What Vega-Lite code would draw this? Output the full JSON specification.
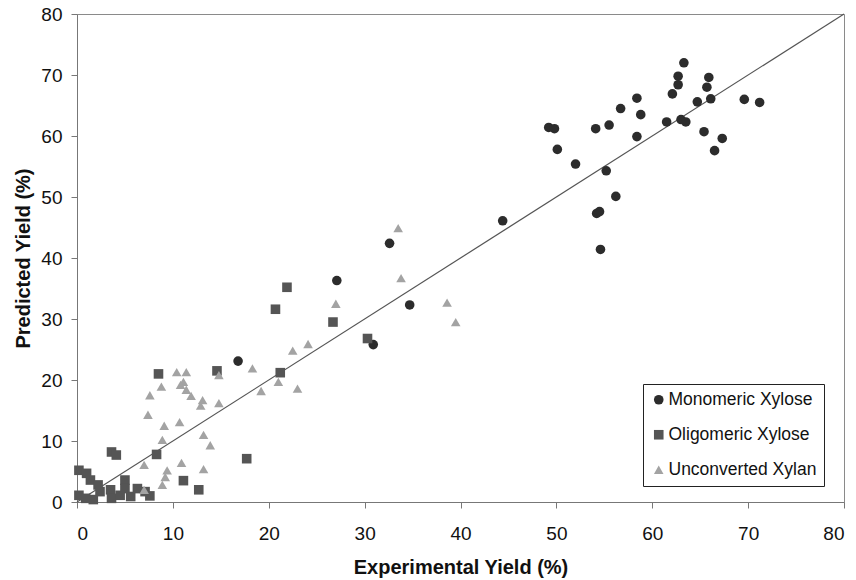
{
  "$schema": "https://vega.github.io/schema/vega-lite/v6.json",
  "autosize": "none",
  "width": 767,
  "height": 488,
  "padding": {"left": 77, "top": 14, "right": 12, "bottom": 78},
  "background": "white",
  "datasets": {
    "points": [
      {"series": "Monomeric Xylose", "exp": 63.3, "pred": 72.0},
      {"series": "Monomeric Xylose", "exp": 62.7, "pred": 69.8},
      {"series": "Monomeric Xylose", "exp": 62.7, "pred": 68.4},
      {"series": "Monomeric Xylose", "exp": 62.1, "pred": 66.9},
      {"series": "Monomeric Xylose", "exp": 65.9, "pred": 69.6},
      {"series": "Monomeric Xylose", "exp": 65.7, "pred": 68.0},
      {"series": "Monomeric Xylose", "exp": 66.1, "pred": 66.1},
      {"series": "Monomeric Xylose", "exp": 64.7, "pred": 65.6},
      {"series": "Monomeric Xylose", "exp": 69.6, "pred": 66.0},
      {"series": "Monomeric Xylose", "exp": 71.2, "pred": 65.5},
      {"series": "Monomeric Xylose", "exp": 58.4, "pred": 66.2},
      {"series": "Monomeric Xylose", "exp": 58.8, "pred": 63.5},
      {"series": "Monomeric Xylose", "exp": 56.7, "pred": 64.5},
      {"series": "Monomeric Xylose", "exp": 55.5, "pred": 61.8},
      {"series": "Monomeric Xylose", "exp": 54.1, "pred": 61.2},
      {"series": "Monomeric Xylose", "exp": 49.2, "pred": 61.4},
      {"series": "Monomeric Xylose", "exp": 49.8, "pred": 61.2},
      {"series": "Monomeric Xylose", "exp": 50.1, "pred": 57.8},
      {"series": "Monomeric Xylose", "exp": 52.0, "pred": 55.4},
      {"series": "Monomeric Xylose", "exp": 55.2, "pred": 54.3},
      {"series": "Monomeric Xylose", "exp": 58.4, "pred": 59.9},
      {"series": "Monomeric Xylose", "exp": 61.5, "pred": 62.3},
      {"series": "Monomeric Xylose", "exp": 63.0, "pred": 62.7},
      {"series": "Monomeric Xylose", "exp": 63.5, "pred": 62.3},
      {"series": "Monomeric Xylose", "exp": 65.4, "pred": 60.7},
      {"series": "Monomeric Xylose", "exp": 67.3, "pred": 59.6},
      {"series": "Monomeric Xylose", "exp": 66.5, "pred": 57.6},
      {"series": "Monomeric Xylose", "exp": 56.2, "pred": 50.1},
      {"series": "Monomeric Xylose", "exp": 54.2, "pred": 47.3},
      {"series": "Monomeric Xylose", "exp": 54.5, "pred": 47.6},
      {"series": "Monomeric Xylose", "exp": 54.6, "pred": 41.4},
      {"series": "Monomeric Xylose", "exp": 44.4, "pred": 46.1},
      {"series": "Monomeric Xylose", "exp": 32.6, "pred": 42.4},
      {"series": "Monomeric Xylose", "exp": 27.1, "pred": 36.3},
      {"series": "Monomeric Xylose", "exp": 34.7, "pred": 32.3},
      {"series": "Monomeric Xylose", "exp": 30.9, "pred": 25.8},
      {"series": "Monomeric Xylose", "exp": 16.8, "pred": 23.1},
      {"series": "Oligomeric Xylose", "exp": 21.9, "pred": 35.2},
      {"series": "Oligomeric Xylose", "exp": 20.7, "pred": 31.6},
      {"series": "Oligomeric Xylose", "exp": 26.7, "pred": 29.5},
      {"series": "Oligomeric Xylose", "exp": 30.3, "pred": 26.8},
      {"series": "Oligomeric Xylose", "exp": 21.2, "pred": 21.2},
      {"series": "Oligomeric Xylose", "exp": 14.6, "pred": 21.5},
      {"series": "Oligomeric Xylose", "exp": 8.5, "pred": 21.0},
      {"series": "Oligomeric Xylose", "exp": 8.3, "pred": 7.8},
      {"series": "Oligomeric Xylose", "exp": 3.6, "pred": 8.2},
      {"series": "Oligomeric Xylose", "exp": 4.1, "pred": 7.7},
      {"series": "Oligomeric Xylose", "exp": 17.7, "pred": 7.1},
      {"series": "Oligomeric Xylose", "exp": 11.1, "pred": 3.5},
      {"series": "Oligomeric Xylose", "exp": 12.7, "pred": 2.0},
      {"series": "Oligomeric Xylose", "exp": 0.2, "pred": 5.2},
      {"series": "Oligomeric Xylose", "exp": 1.0, "pred": 4.7},
      {"series": "Oligomeric Xylose", "exp": 1.4, "pred": 3.6},
      {"series": "Oligomeric Xylose", "exp": 2.2, "pred": 2.8},
      {"series": "Oligomeric Xylose", "exp": 5.0, "pred": 3.6},
      {"series": "Oligomeric Xylose", "exp": 5.0, "pred": 2.2},
      {"series": "Oligomeric Xylose", "exp": 0.2, "pred": 1.1},
      {"series": "Oligomeric Xylose", "exp": 2.4, "pred": 1.7},
      {"series": "Oligomeric Xylose", "exp": 3.5, "pred": 2.0},
      {"series": "Oligomeric Xylose", "exp": 3.6, "pred": 0.6},
      {"series": "Oligomeric Xylose", "exp": 4.5, "pred": 1.1},
      {"series": "Oligomeric Xylose", "exp": 5.6, "pred": 0.9},
      {"series": "Oligomeric Xylose", "exp": 6.3, "pred": 2.2},
      {"series": "Oligomeric Xylose", "exp": 7.1, "pred": 1.7},
      {"series": "Oligomeric Xylose", "exp": 7.6, "pred": 1.0},
      {"series": "Oligomeric Xylose", "exp": 1.7, "pred": 0.4},
      {"series": "Oligomeric Xylose", "exp": 0.9, "pred": 0.6},
      {"series": "Unconverted Xylan", "exp": 33.5, "pred": 44.9},
      {"series": "Unconverted Xylan", "exp": 33.8, "pred": 36.7},
      {"series": "Unconverted Xylan", "exp": 38.6, "pred": 32.7},
      {"series": "Unconverted Xylan", "exp": 39.5, "pred": 29.5},
      {"series": "Unconverted Xylan", "exp": 27.0, "pred": 32.5},
      {"series": "Unconverted Xylan", "exp": 24.1, "pred": 25.9},
      {"series": "Unconverted Xylan", "exp": 22.5, "pred": 24.8},
      {"series": "Unconverted Xylan", "exp": 18.3, "pred": 21.9},
      {"series": "Unconverted Xylan", "exp": 21.0, "pred": 19.7},
      {"series": "Unconverted Xylan", "exp": 19.2, "pred": 18.2},
      {"series": "Unconverted Xylan", "exp": 23.0, "pred": 18.6},
      {"series": "Unconverted Xylan", "exp": 14.8, "pred": 20.8},
      {"series": "Unconverted Xylan", "exp": 10.4, "pred": 21.3},
      {"series": "Unconverted Xylan", "exp": 11.4, "pred": 21.3},
      {"series": "Unconverted Xylan", "exp": 11.1, "pred": 19.7},
      {"series": "Unconverted Xylan", "exp": 10.8, "pred": 19.2},
      {"series": "Unconverted Xylan", "exp": 8.8, "pred": 18.9},
      {"series": "Unconverted Xylan", "exp": 11.4, "pred": 18.4},
      {"series": "Unconverted Xylan", "exp": 11.9, "pred": 17.4},
      {"series": "Unconverted Xylan", "exp": 7.6, "pred": 17.5},
      {"series": "Unconverted Xylan", "exp": 13.1, "pred": 16.7},
      {"series": "Unconverted Xylan", "exp": 12.9, "pred": 15.8},
      {"series": "Unconverted Xylan", "exp": 14.8, "pred": 16.2},
      {"series": "Unconverted Xylan", "exp": 7.4, "pred": 14.3},
      {"series": "Unconverted Xylan", "exp": 9.1, "pred": 12.5},
      {"series": "Unconverted Xylan", "exp": 10.7, "pred": 13.1},
      {"series": "Unconverted Xylan", "exp": 8.9, "pred": 10.2},
      {"series": "Unconverted Xylan", "exp": 13.2, "pred": 11.0},
      {"series": "Unconverted Xylan", "exp": 13.9, "pred": 9.3},
      {"series": "Unconverted Xylan", "exp": 7.0, "pred": 6.1},
      {"series": "Unconverted Xylan", "exp": 9.4, "pred": 5.2},
      {"series": "Unconverted Xylan", "exp": 9.2, "pred": 4.1},
      {"series": "Unconverted Xylan", "exp": 10.9, "pred": 6.4},
      {"series": "Unconverted Xylan", "exp": 13.2, "pred": 5.4},
      {"series": "Unconverted Xylan", "exp": 8.9, "pred": 2.8},
      {"series": "Unconverted Xylan", "exp": 7.0, "pred": 2.0}
    ],
    "parity": [
      {"exp": 0, "pred": 0},
      {"exp": 80, "pred": 80}
    ]
  },
  "layer": [
    {
      "data": {"name": "parity"},
      "mark": {"type": "line", "color": "#555555", "strokeWidth": 1.2},
      "encoding": {
        "x": {"field": "exp", "type": "quantitative"},
        "y": {"field": "pred", "type": "quantitative"}
      }
    },
    {
      "data": {"name": "points"},
      "mark": {"type": "point", "filled": true, "opacity": 1, "strokeWidth": 0},
      "encoding": {
        "x": {"field": "exp", "type": "quantitative"},
        "y": {"field": "pred", "type": "quantitative"},
        "size": {
          "field": "series",
          "type": "nominal",
          "scale": {
            "domain": ["Monomeric Xylose", "Oligomeric Xylose", "Unconverted Xylan"],
            "range": [92, 92, 135]
          },
          "legend": null
        },
        "color": {
          "field": "series",
          "type": "nominal",
          "scale": {
            "domain": ["Monomeric Xylose", "Oligomeric Xylose", "Unconverted Xylan"],
            "range": ["#2c2c2c", "#555555", "#a3a3a3"]
          },
          "legend": {
            "title": null,
            "orient": "none",
            "legendX": 566,
            "legendY": 370,
            "strokeColor": "#222222",
            "padding": 7,
            "rowPadding": 16,
            "labelOffset": 1,
            "labelFontSize": 17.5,
            "labelFont": "Liberation Sans",
            "labelColor": "#111111",
            "symbolSize": 90,
            "symbolStrokeWidth": 0
          }
        },
        "shape": {
          "field": "series",
          "type": "nominal",
          "scale": {
            "domain": ["Monomeric Xylose", "Oligomeric Xylose", "Unconverted Xylan"],
            "range": ["circle", "square", "triangle-up"]
          },
          "legend": {
            "title": null,
            "orient": "none",
            "legendX": 566,
            "legendY": 370,
            "strokeColor": "#222222",
            "padding": 7,
            "rowPadding": 16,
            "labelOffset": 1,
            "labelFontSize": 17.5,
            "labelFont": "Liberation Sans",
            "labelColor": "#111111",
            "symbolSize": 90,
            "symbolStrokeWidth": 0
          }
        }
      }
    }
  ],
  "encoding": {
    "x": {
      "field": "exp",
      "type": "quantitative",
      "scale": {"domain": [0, 80], "nice": false, "zero": true},
      "axis": {
        "title": "Experimental Yield (%)",
        "values": [0, 10, 20, 30, 40, 50, 60, 70, 80],
        "labelPadding": 16,
        "titlePadding": 14
      }
    },
    "y": {
      "field": "pred",
      "type": "quantitative",
      "scale": {"domain": [0, 80], "nice": false, "zero": true},
      "axis": {
        "title": "Predicted Yield (%)",
        "values": [0, 10, 20, 30, 40, 50, 60, 70, 80],
        "labelPadding": 9,
        "titlePadding": 7
      }
    }
  },
  "config": {
    "font": "Liberation Sans",
    "view": {"stroke": "#8a8a8a", "strokeWidth": 1},
    "axis": {
      "grid": false,
      "domainColor": "#777777",
      "tickColor": "#777777",
      "tickSize": 6,
      "labelFont": "Liberation Sans",
      "labelFontSize": 19,
      "labelColor": "#111111",
      "titleFont": "Liberation Sans",
      "titleFontSize": 20,
      "titleFontWeight": "bold",
      "titleColor": "#111111"
    }
  }
}
